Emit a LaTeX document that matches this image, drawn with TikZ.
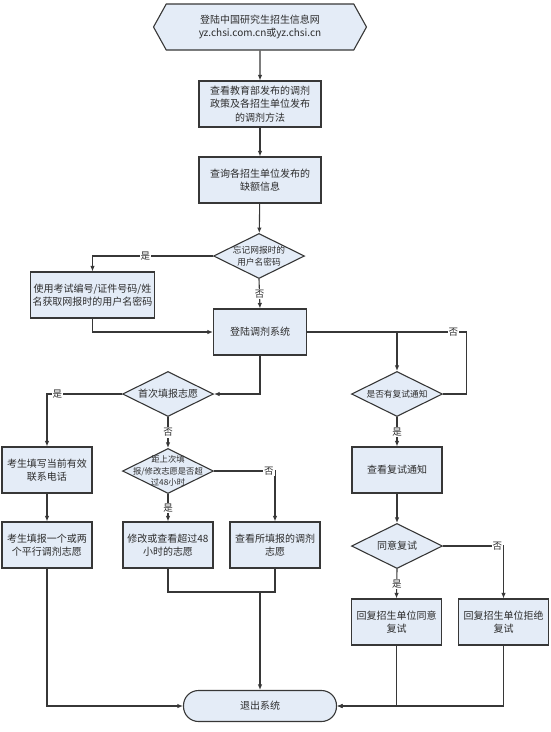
\documentclass[tikz,border=0pt]{standalone}
\usepackage{fontspec}
\setmainfont{Noto Sans CJK SC}
\usetikzlibrary{shapes.geometric,shapes.symbols,arrows.meta}
\definecolor{boxfill}{RGB}{228,236,247}
\definecolor{linec}{RGB}{55,55,55}
\definecolor{textc}{RGB}{45,45,45}

\begin{document}
\begin{tikzpicture}[x=1pt,y=-1pt,line width=1.1pt,color=linec,
>={Latex[length=5.5pt,width=4.5pt]},
box/.style={draw,fill=boxfill,rectangle,minimum width=90pt,minimum height=46pt,inner sep=2pt,align=center,text=textc,font=\fontsize{10}{13.5}\selectfont},
hexbox/.style={box,signal,signal to=west and east,signal pointer angle=122,minimum width=213pt},
endbox/.style={box,rounded corners=15pt,minimum width=153pt,minimum height=31pt},
dia/.style={diamond,draw,fill=boxfill,minimum width=91pt,minimum height=45pt,inner sep=0pt},
dtxt/.style={align=center,text=textc,inner sep=0pt,font=\fontsize{8.7}{11.5}\selectfont},
lbl/.style={fill=white,inner sep=1pt,text=textc,font=\fontsize{9.5}{10}\selectfont}]

\useasboundingbox (0,0) rectangle (550,732);

% main column
\draw (260,27) node[hexbox] (site) {登陆中国研究生招生信息网\\yz.chsi.com.cn或yz.chsi.cn};
\draw (260,104) node[box,minimum width=122pt] (policy) {查看教育部发布的调剂\\政策及各招生单位发布\\的调剂方法};
\draw (260,180) node[box,minimum width=122pt] (vacancy) {查询各招生单位发布的\\缺额信息};
\draw (259,256) node[dia,label={[name=forgettxt,dtxt]center:{忘记网报时的\\用户名密码}}] (forget) {};
\draw (92.5,295) node[box,minimum width=121pt] (getpw) {使用考试编号/证件号码/姓\\名获取网报时的用户名密码};
\draw (260,332) node[box,minimum width=93pt] (login) {登陆调剂系统};

% left branch
\draw (168,394) node[dia,label={[name=firsttxt,dtxt,font=\fontsize{10}{12}\selectfont]center:首次填报志愿}] (first) {};
\draw (47,470) node[box] (phone) {考生填写当前有效\\联系电话};
\draw (47,545) node[box] (apply) {考生填报一个或两\\个平行调剂志愿};
\draw (168,471) node[dia,label={[name=overduetxt,dtxt,font=\fontsize{8.3}{11.5}\selectfont]center:{距上次填\\报/修改志愿是否超\\过48小时}}] (overdue) {};
\draw (168,545) node[box] (modify) {修改或查看超过48\\小时的志愿};
\draw (275,545) node[box] (view) {查看所填报的调剂\\志愿};

% right branch
\draw (397,394) node[dia,label={[name=retesttxt,dtxt]center:是否有复试通知}] (retest) {};
\draw (397,470) node[box] (notice) {查看复试通知};
\draw (397,546) node[dia,label={[name=agreetxt,dtxt,font=\fontsize{10}{12}\selectfont]center:同意复试}] (agree) {};
\draw (396.5,622) node[box] (accept) {回复招生单位同意\\复试};
\draw (503.5,622) node[box] (refuse) {回复招生单位拒绝\\复试};

\draw (260,706) node[endbox] (exit) {退出系统};
\coordinate (merge) at (260,592);

% connectors
\draw[->] (site) -- (policy);
\draw[->] (policy) -- (vacancy);
\draw[->] (vacancy) -- (forget);
\draw[->] (forget.west) -| node[lbl,pos=0.28] (yes1) {是} (getpw.north);
\draw[->] (forget.south) -- node[lbl] (no1) {否} (login.north);
\draw[->] (getpw.south) |- (login.west);
\draw[->] (login.east) -| (retest.north);
\draw (retest.east) -- ++(23,0) |- node[lbl,pos=0.54] (no2) {否} (login.east);
\draw[->] (login.south) |- (first.east);
\draw[->] (first.west) -| node[lbl,pos=0.43] (yes2) {是} (phone.north);
\draw[->] (first.south) -- node[lbl] (no3) {否} (overdue.north);
\draw[->] (phone) -- (apply);
\draw[->] (overdue.east) -| node[lbl,pos=0.45] (no4) {否} (view.north);
\draw[->] (overdue.south) -- node[lbl] (yes3) {是} (modify.north);
\draw (modify.south) |- (merge) -| (view.south);
\draw[->] (merge) -- (exit.north);
\draw[->] (apply.south) |- (exit.west);
\draw[->] (retest.south) -- node[lbl] (yes4) {是} (notice.north);
\draw[->] (notice) -- (agree);
\draw[->] (agree.east) -| node[lbl,pos=0.45] (no5) {否} (refuse.north);
\draw[->] (agree.south) -- node[lbl] (yes5) {是} (accept.north);
\draw[->] (accept.south) |- (exit.east);
\draw[->] (refuse.south) |- (exit.east);
\end{tikzpicture}
\end{document}
